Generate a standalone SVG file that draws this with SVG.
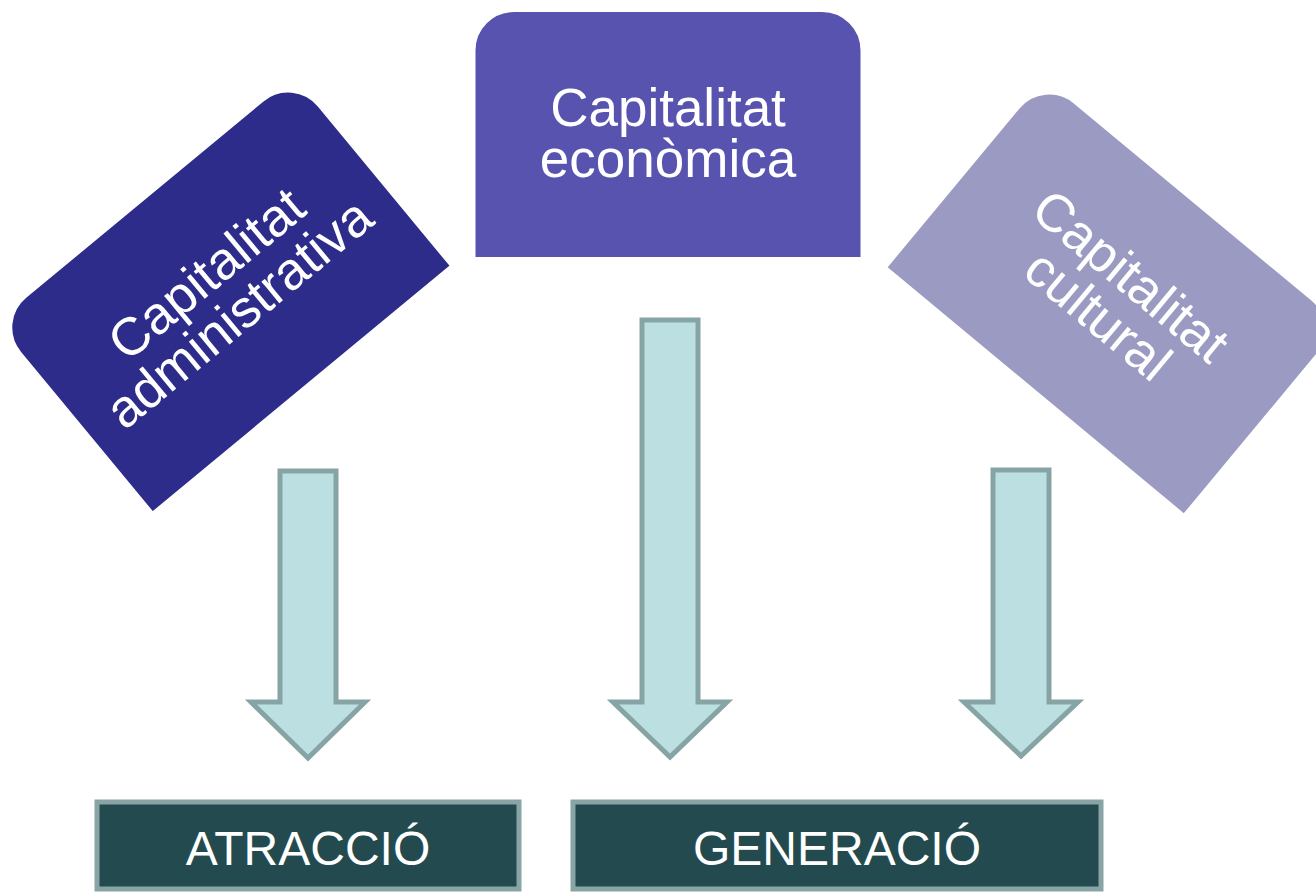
<svg xmlns="http://www.w3.org/2000/svg" width="1316" height="893" viewBox="0 0 1316 893">
  <style>
    .card { stroke: #ffffff; stroke-width: 3; }
    .ctext { font-family: "Liberation Sans", Arial, sans-serif; font-size: 53px; fill: #ffffff; text-anchor: middle; }
    .arrow { fill: #BCE0E2; stroke: #87A4A5; stroke-width: 5; stroke-linejoin: miter; }
    .outbox { fill: #234B4F; stroke: #88A4A4; stroke-width: 5; }
    .otext { font-family: "Liberation Sans", Arial, sans-serif; font-size: 48px; fill: #ffffff; text-anchor: middle; }
  </style>
  <defs>
    <path id="cardShape" d="M -194 124 V -84 A 40 40 0 0 1 -154 -124 H 154 A 40 40 0 0 1 194 -84 V 124 Z"/>
  </defs>
  <rect width="1316" height="893" fill="#ffffff"/>

  <g id="node-administrativa" transform="translate(223,294) rotate(-39.6)">
    <use href="#cardShape" class="card" fill="#2D2C8A"/>
    <text class="ctext" x="0" y="-8">Capitalitat</text>
    <text class="ctext" x="0" y="43">administrativa</text>
  </g>

  <g id="node-economica" transform="translate(668,134.5)">
    <use href="#cardShape" class="card" fill="#5753AE"/>
    <text class="ctext" x="0" y="-8.5">Capitalitat</text>
    <text class="ctext" x="0" y="42.5">econòmica</text>
  </g>

  <g id="node-cultural" transform="translate(1114,296) rotate(39.7)">
    <use href="#cardShape" class="card" fill="#9B9AC2"/>
    <text class="ctext" x="0" y="-8">Capitalitat</text>
    <text class="ctext" x="0" y="43">cultural</text>
  </g>

  <g id="connectors">
    <path class="arrow" d="M 280 471 H 336 V 702 H 365 L 308 758 L 251 702 H 280 Z"/>
    <path class="arrow" d="M 642 320 H 698 V 702 H 727 L 670 757 L 613 702 H 642 Z"/>
    <path class="arrow" d="M 993 470 H 1049 V 702 H 1078 L 1021 756 L 964 702 H 993 Z"/>
  </g>

  <g id="node-atraccio">
    <rect class="outbox" x="97" y="802" width="422" height="87"/>
    <text class="otext" x="308" y="865">ATRACCIÓ</text>
  </g>

  <g id="node-generacio">
    <rect class="outbox" x="573" y="802" width="528" height="87"/>
    <text class="otext" x="837" y="865">GENERACIÓ</text>
  </g>
</svg>
